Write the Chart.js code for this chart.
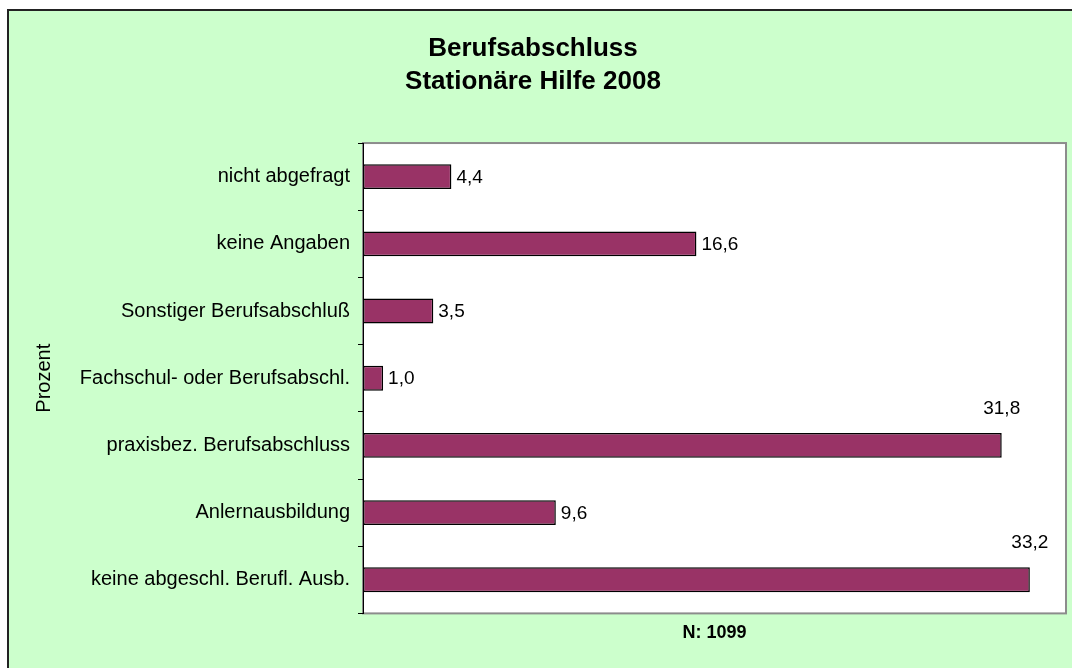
<!DOCTYPE html>
<html>
<head>
<meta charset="utf-8">
<script src="https://cdn.jsdelivr.net/npm/chart.js@4/dist/chart.umd.min.js"></script>
<style>
  html, body { margin: 0; padding: 0; background: #fff; }
  #chart { display: block; }
</style>
</head>
<body>
<canvas id="chart" width="1072" height="668"></canvas>
<script>
// data
const categories = [
    'nicht abgefragt',
    'keine Angaben',
    'Sonstiger Berufsabschluß',
    'Fachschul- oder Berufsabschl.',
    'praxisbez. Berufsabschluss',
    'Anlernausbildung',
    'keine abgeschl. Berufl. Ausb.'
];
const percentValues = [4.4, 16.6, 3.5, 1.0, 31.8, 9.6, 33.2];
const titleLines = ['Berufsabschluss', 'Stationäre Hilfe 2008'];
const axisTitleY = 'Prozent';
const axisTitleX = 'N: 1099';

const FONT = "Arial, 'Liberation Sans', sans-serif";

// green page background with the black frame (right/bottom run off the picture)
const backgroundPlugin = {
    id: 'background',
    beforeDraw(chart) {
        const ctx = chart.ctx;
        ctx.save();
        ctx.fillStyle = '#ffffff';
        ctx.fillRect(0, 0, chart.width, chart.height);
        ctx.fillStyle = '#ccffcc';
        ctx.fillRect(7, 9, chart.width, chart.height);
        ctx.strokeStyle = '#222222';
        ctx.lineWidth = 2;
        ctx.beginPath();
        ctx.moveTo(8, chart.height);
        ctx.lineTo(8, 10);
        ctx.lineTo(chart.width, 10);
        ctx.stroke();
        // white plot area with grey frame
        const a = chart.chartArea;
        ctx.fillStyle = '#ffffff';
        ctx.fillRect(a.left, a.top, a.right - a.left, a.bottom - a.top);
        ctx.strokeStyle = '#8c8c8c';
        ctx.lineWidth = 2;
        ctx.strokeRect(a.left, a.top, a.right - a.left, a.bottom - a.top);
        ctx.restore();
    }
};

// value labels, German decimal comma
const valueLabelPlugin = {
    id: 'valueLabels',
    afterDatasetsDraw(chart) {
        const ctx = chart.ctx;
        const meta = chart.getDatasetMeta(0);
        ctx.save();
        ctx.font = '19px ' + FONT;
        ctx.fillStyle = '#000';
        meta.data.forEach((bar, i) => {
            const v = percentValues[i];
            const txt = v.toFixed(1).replace('.', ',');
            ctx.textBaseline = 'middle';
            if (v > 30) {
                ctx.textAlign = 'center';
                ctx.fillText(txt, bar.x, bar.y - 37);
            } else {
                ctx.textAlign = 'left';
                ctx.fillText(txt, bar.x + 5, bar.y + 1);
            }
        });
        ctx.restore();
    }
};

const ctx = document.getElementById('chart').getContext('2d');
const chart = new Chart(ctx, {
    type: 'bar',
    data: {
        labels: categories,
        datasets: [{
            data: percentValues,
            backgroundColor: '#993366',
            borderColor: '#000000',
            borderWidth: 1.5,
            borderSkipped: false,
            barPercentage: 0.37,
            categoryPercentage: 1.0
        }]
    },
    options: {
        indexAxis: 'y',
        responsive: false,
        animation: false,
        devicePixelRatio: 1,
        layout: { padding: { left: 0, right: 6, top: 0, bottom: 24 } },
        plugins: {
            legend: { display: false },
            tooltip: { enabled: false },
            title: {
                display: true,
                text: titleLines,
                color: '#000',
                font: { family: FONT, size: 26, weight: 'bold', lineHeight: 1.27 },
                padding: { top: 32, bottom: 45 }
            }
        },
        scales: {
            x: {
                min: 0,
                max: 35,
                ticks: { display: false },
                grid: { display: false },
                border: { display: false },
                title: {
                    display: true,
                    text: axisTitleX,
                    color: '#000',
                    font: { family: FONT, size: 18, weight: 'bold' },
                    padding: { top: 1, bottom: 0 }
                }
            },
            y: {
                grid: {
                    offset: true,
                    drawOnChartArea: false,
                    tickLength: 5,
                    color: '#000'
                },
                border: { display: true, color: '#000', width: 1 },
                ticks: {
                    color: '#000',
                    padding: 8,
                    font: { family: FONT, size: 20 }
                },
                title: {
                    display: true,
                    text: axisTitleY,
                    color: '#000',
                    font: { family: FONT, size: 20 },
                    padding: { top: 32, bottom: 0 }
                },
                afterFit(scale) {
                    scale.width = 363;
                }
            }
        }
    },
    plugins: [backgroundPlugin, valueLabelPlugin]
});
</script>
</body>
</html>
